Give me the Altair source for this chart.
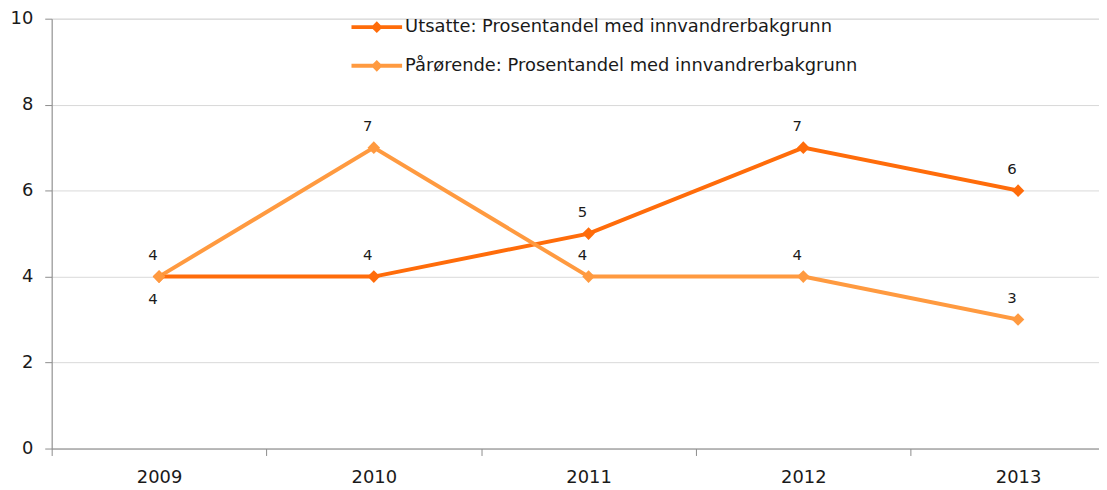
import altair as alt
import pandas as pd

years = [2009, 2010, 2011, 2012, 2013]
series_names = ["Utsatte: Prosentandel med innvandrerbakgrunn",
                "Pårørende: Prosentandel med innvandrerbakgrunn"]
utsatte = [4, 4, 5, 7, 6]
parorende = [4, 7, 4, 4, 3]
colors = ["#FF6C0A", "#FF9A40"]

rows = []
for i, y in enumerate(years):
    rows.append({"year": y, "series": series_names[0], "value": utsatte[i], "order": 0})
for i, y in enumerate(years):
    rows.append({"year": y, "series": series_names[1], "value": parorende[i], "order": 1})
df = pd.DataFrame(rows)

font = "DejaVu Sans"
tick_vals = [2008.5, 2009, 2009.5, 2010, 2010.5, 2011, 2011.5, 2012, 2012.5, 2013]

x = alt.X("year:Q",
          scale=alt.Scale(domain=[2008.5, 2013.377], nice=False, zero=False),
          axis=alt.Axis(values=tick_vals, title=None, grid=False,
                        labelExpr="datum.value % 1 === 0 ? datum.value : ''",
                        tickOpacity={"condition": {"test": "datum.value % 1 === 0", "value": 0}, "value": 1},
                        domainColor="#8c8c8c", tickColor="#8c8c8c", tickSize=7,
                        labelPadding=13, labelFont=font, labelFontSize=18,
                        labelColor="#1a1a1a", labelFlush=False))
y = alt.Y("value:Q",
          scale=alt.Scale(domain=[0, 10], nice=False),
          axis=alt.Axis(values=[0, 2, 4, 6, 8, 10], title=None,
                        gridColor="#d9d9d9", domainColor="#8c8c8c", tickColor="#8c8c8c",
                        tickSize=7, labelPadding=12, labelFont=font, labelFontSize=18,
                        labelColor="#1a1a1a"))
color = alt.Color("series:N",
                  scale=alt.Scale(domain=series_names, range=colors),
                  legend=alt.Legend(title=None, orient="none", legendX=300, legendY=-19,
                                    direction="vertical",
                                    symbolType="M-1,0L1,0M0,-0.12L0.12,0L0,0.12L-0.12,0Z",
                                    symbolSize=2600, symbolStrokeWidth=4,
                                    labelFont=font, labelFontSize=18, labelColor="#1a1a1a",
                                    labelLimit=700, rowPadding=-10, labelOffset=1))

base = alt.Chart(df)
line = base.mark_line(strokeWidth=4).encode(x=x, y=y, color=color, detail="series:N")
pts = base.mark_point(shape="diamond", filled=True, size=160, opacity=1).encode(
    x=x, y=y, color=alt.Color("series:N", scale=alt.Scale(domain=series_names, range=colors), legend=None))

lab_up = base.transform_filter(
    "!(datum.series == '%s' && datum.year == 2009)" % series_names[0]
).mark_text(font=font, fontSize=15, color="#1a1a1a", dy=-22, dx=-6).encode(
    x=x, y=y, text="value:Q")
lab_down = base.transform_filter(
    "datum.series == '%s' && datum.year == 2009" % series_names[0]
).mark_text(font=font, fontSize=15, color="#1a1a1a", dy=23, dx=-6).encode(
    x=x, y=y, text="value:Q")

chart = alt.layer(line, pts, lab_up, lab_down).properties(
    width=1055, height=433,
    autosize=alt.AutoSizeParams(type="none"),
    padding={"left": 44, "top": 9, "right": 0, "bottom": 40},
).configure_view(stroke=None).configure(background="white")

chart.save("out.html", embed_options={"renderer": "svg", "actions": False})
